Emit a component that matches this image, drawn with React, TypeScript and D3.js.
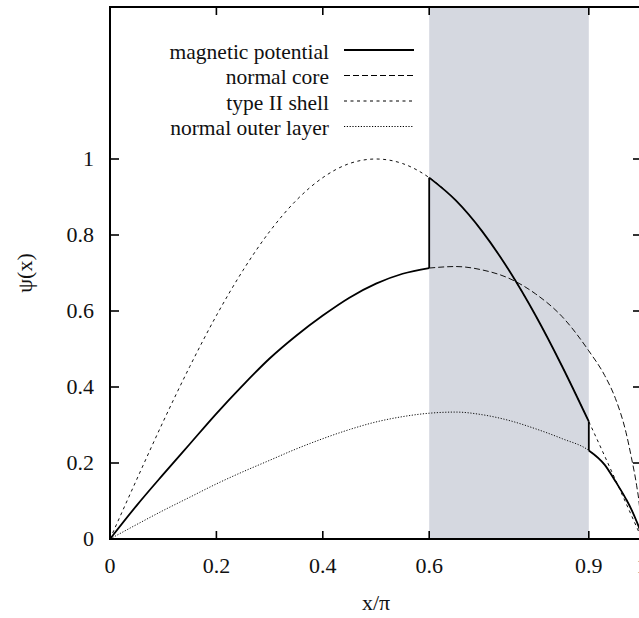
import React from 'react';
import * as d3 from 'd3';

const settings = {
  margin: {top: 7, left: 110, bottom: 79},
  width: 532,
  height: 532
};

// type II shell
const shellX = [0,0.05,0.1,0.15,0.2,0.25,0.3,0.35,0.4,0.45,0.5,0.55,0.6,0.65,0.7,0.75,0.8,0.85,0.9,0.95,1];
const shellY = [0,0.156,0.309,0.454,0.588,0.707,0.809,0.891,0.951,0.988,1,0.988,0.951,0.891,0.809,0.707,0.588,0.454,0.309,0.156,0];

// normal core
const coreX = [0,0.05,0.1,0.15,0.2,0.25,0.3,0.35,0.4,0.45,0.5,0.55,0.6,0.65,0.7,0.75,0.8,0.85,0.9,0.93,0.95,0.97,0.98,0.99,0.995,1];
const coreY = [0,0.088,0.17,0.25,0.33,0.405,0.475,0.535,0.588,0.635,0.672,0.698,0.713,0.717,0.708,0.686,0.645,0.585,0.495,0.43,0.37,0.28,0.215,0.14,0.09,0];

// normal outer layer
const outerX = [0,0.05,0.1,0.15,0.2,0.25,0.3,0.35,0.4,0.45,0.5,0.55,0.6,0.65,0.7,0.75,0.8,0.85,0.9,0.93,0.95,0.97,0.98,0.99,0.995,1];
const outerY = [0,0.038,0.075,0.11,0.145,0.177,0.207,0.237,0.264,0.288,0.308,0.322,0.331,0.334,0.327,0.312,0.29,0.264,0.233,0.195,0.152,0.105,0.078,0.046,0.028,0];

// shell region
const bandFrom = 0.6;
const bandTo = 0.9;

const xTicks = [0, 0.2, 0.4, 0.6, 0.9, 1];
const xTickLabels = ['0', '0.2', '0.4', '0.6', '0.9', '1'];
const yTicks = [0, 0.2, 0.4, 0.6, 0.8, 1];
const yTickLabels = ['0', '0.2', '0.4', '0.6', '0.8', '1'];

const legendNames = ['magnetic potential', 'normal core', 'type II shell', 'normal outer layer'];
const legendDash = [null, '6,3', '3,3.5', '1.2,1.6'];

const txt = {fontFamily: "'Liberation Serif', 'DejaVu Serif', serif", fill: '#111'};

const zip = (xs: number[], ys: number[]) => xs.map((x, i) => [x, ys[i]] as [number, number]);

export default function App() {
  const {margin, width, height} = settings;
  const xScale = d3.scaleLinear().domain([0, 1]).range([margin.left, margin.left + width]);
  const yScale = d3.scaleLinear().domain([0, 1.4]).range([margin.top + height, margin.top]);

  const line = d3.line<[number, number]>()
    .x(d => xScale(d[0]))
    .y(d => yScale(d[1]))
    .curve(d3.curveMonotoneX);
  const straight = d3.line<[number, number]>()
    .x(d => xScale(d[0]))
    .y(d => yScale(d[1]));

  const shell = zip(shellX, shellY);
  const core = zip(coreX, coreY);
  const outer = zip(outerX, outerY);

  // magnetic potential pieces: core | shell | outer
  const potCore = core.filter(d => d[0] <= bandFrom);
  const potShell = shell.filter(d => d[0] >= bandFrom && d[0] <= bandTo);
  const potOuter = outer.filter(d => d[0] >= bandTo);
  const jumps = [
    [potCore[potCore.length - 1], potShell[0]],
    [potShell[potShell.length - 1], potOuter[0]]
  ];

  const x0 = xScale(0), x1 = xScale(1);
  const y0 = yScale(0), yTop = yScale(1.4);

  return (
    <svg width={639} height={618} style={{position: 'absolute', left: 0, top: 0, background: '#fff'}}>
      <rect x={xScale(bandFrom)} y={yTop} width={xScale(bandTo) - xScale(bandFrom)} height={y0 - yTop} fill="#d5d8e0" />

      {/* curves */}
      <path d={line(core.filter(d => d[0] >= bandFrom)) || ''} fill="none" stroke="#111" strokeWidth={1} strokeDasharray="6,3" />
      <path d={line(shell) || ''} fill="none" stroke="#111" strokeWidth={1} strokeDasharray="3,3.5" />
      <path d={line(outer) || ''} fill="none" stroke="#111" strokeWidth={1} strokeDasharray="1.2,1.6" />
      <path d={line(potCore) || ''} fill="none" stroke="#000" strokeWidth={1.8} />
      <path d={line(potShell) || ''} fill="none" stroke="#000" strokeWidth={1.8} />
      <path d={line(potOuter) || ''} fill="none" stroke="#000" strokeWidth={1.8} />
      {jumps.map((j, i) => <path key={'j' + i} d={straight(j as [number, number][]) || ''} fill="none" stroke="#000" strokeWidth={1.8} />)}

      {/* frame + ticks */}
      <rect x={x0} y={yTop} width={x1 - x0} height={y0 - yTop} fill="none" stroke="#000" strokeWidth={2} />
      {xTicks.map((t, i) => (
        <g key={'xt' + i}>
          <line x1={xScale(t)} x2={xScale(t)} y1={y0} y2={y0 - 8} stroke="#000" strokeWidth={1.6} />
          <line x1={xScale(t)} x2={xScale(t)} y1={yTop} y2={yTop + 8} stroke="#000" strokeWidth={1.6} />
          <text x={xScale(t)} y={573} textAnchor="middle" fontSize={22} style={txt}>{xTickLabels[i]}</text>
        </g>
      ))}
      {yTicks.map((t, i) => (
        <g key={'yt' + i}>
          <line x1={x0} x2={x0 + 9} y1={yScale(t)} y2={yScale(t)} stroke="#000" strokeWidth={1.6} />
          <line x1={x1} x2={x1 - 9} y1={yScale(t)} y2={yScale(t)} stroke="#000" strokeWidth={1.6} />
          <text x={94} y={yScale(t)} dy="0.33em" textAnchor="end" fontSize={22} style={txt}>{yTickLabels[i]}</text>
        </g>
      ))}

      <text x={(x0 + x1) / 2} y={610} textAnchor="middle" fontSize={22} style={txt}>x/π</text>
      <text transform={`translate(32, ${(y0 + yTop) / 2}) rotate(-90)`} textAnchor="middle" fontSize={22} style={txt}>ψ(x)</text>

      {/* legend */}
      {legendNames.map((name, i) => {
        const by = 58.5 + i * 25.5;
        return (
          <g key={'lg' + i}>
            <text x={329} y={by} textAnchor="end" fontSize={21.5} style={txt}>{name}</text>
            <line x1={344} x2={414} y1={by - 8.5} y2={by - 8.5} stroke="#000"
              strokeWidth={legendDash[i] ? 1 : 1.8} strokeDasharray={legendDash[i] || undefined} />
          </g>
        );
      })}
    </svg>
  );
}
